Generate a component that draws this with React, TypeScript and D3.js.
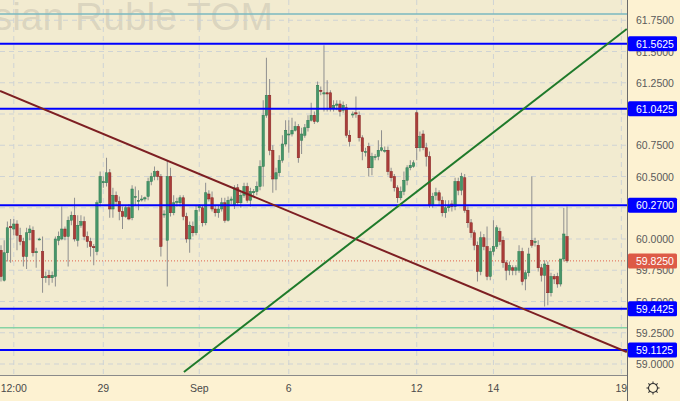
import React from 'react';
import * as d3 from 'd3';

const W = 680;
const H = 401;
const PLOT_RIGHT = 627;
const PLOT_BOTTOM = 375;

// [open, high, low, close]
const ohlc: [number, number, number, number][] = [
  [59.91, 59.95, 59.66, 59.70], [59.67, 59.99, 59.66, 59.89], [59.89, 60.14, 59.82, 60.09], [60.10, 60.16, 59.81, 60.09],
  [60.08, 60.16, 60.03, 60.12], [60.12, 60.15, 59.91, 60.03], [60.03, 60.09, 59.95, 59.98], [59.98, 60.01, 59.78, 59.86],
  [59.86, 60.09, 59.76, 60.05], [60.05, 60.11, 59.99, 60.08], [60.07, 60.10, 59.86, 59.89], [59.89, 59.93, 59.77, 59.90],
  [60.00, 60.01, 59.99, 60.00], [59.90, 60.02, 59.57, 59.69], [59.69, 59.74, 59.65, 59.70], [59.71, 59.75, 59.63, 59.69],
  [59.69, 59.74, 59.65, 59.71], [59.70, 60.02, 59.62, 60.00], [59.99, 60.06, 59.95, 60.02], [60.00, 60.26, 59.99, 60.08],
  [60.08, 60.10, 59.99, 60.02], [60.02, 60.18, 59.78, 60.15], [60.15, 60.22, 60.11, 60.19], [60.19, 60.33, 59.98, 60.00],
  [59.99, 60.19, 59.94, 60.11], [60.11, 60.19, 60.09, 60.14], [60.14, 60.18, 59.99, 60.02], [60.02, 60.06, 59.93, 59.98],
  [59.98, 60.01, 59.86, 59.94], [59.94, 59.96, 59.79, 59.93], [59.90, 60.31, 59.87, 60.29], [60.29, 60.54, 60.26, 60.50],
  [60.45, 60.50, 60.41, 60.46], [60.45, 60.65, 60.42, 60.53], [60.53, 60.56, 60.17, 60.24], [60.24, 60.41, 60.17, 60.35],
  [60.35, 60.38, 60.27, 60.30], [60.30, 60.34, 60.15, 60.22], [60.22, 60.26, 60.08, 60.18], [60.18, 60.27, 60.17, 60.25],
  [60.25, 60.28, 60.15, 60.16], [60.17, 60.43, 60.15, 60.40], [60.34, 60.42, 60.27, 60.34], [60.30, 60.39, 60.23, 60.31],
  [60.32, 60.35, 60.30, 60.32], [60.32, 60.34, 60.30, 60.33], [60.34, 60.49, 60.31, 60.46], [60.46, 60.53, 60.43, 60.50],
  [60.50, 60.58, 60.47, 60.54], [60.54, 60.55, 60.47, 60.50], [60.50, 60.52, 59.86, 59.94], [60.20, 60.23, 60.17, 60.20],
  [59.99, 60.63, 59.62, 60.50], [60.50, 60.57, 60.18, 60.21], [60.21, 60.35, 60.19, 60.29], [60.30, 60.33, 60.26, 60.30],
  [60.29, 60.35, 60.26, 60.33], [60.33, 60.35, 60.15, 60.18], [60.18, 60.21, 59.97, 60.00], [60.00, 60.14, 59.89, 60.11],
  [60.10, 60.14, 60.02, 60.05], [60.05, 60.27, 60.03, 60.23], [60.25, 60.28, 60.22, 60.26], [60.25, 60.27, 60.10, 60.13],
  [60.13, 60.45, 60.11, 60.37], [60.36, 60.39, 60.30, 60.32], [60.33, 60.38, 60.22, 60.24], [60.24, 60.27, 60.18, 60.21],
  [60.21, 60.27, 60.17, 60.24], [60.24, 60.33, 60.22, 60.29], [60.29, 60.33, 60.13, 60.15], [60.15, 60.34, 60.14, 60.31],
  [60.31, 60.34, 60.28, 60.32], [60.27, 60.43, 60.24, 60.41], [60.41, 60.44, 60.27, 60.29], [60.29, 60.38, 60.25, 60.35],
  [60.35, 60.45, 60.33, 60.42], [60.42, 60.45, 60.29, 60.31], [60.31, 60.41, 60.26, 60.38], [60.37, 60.40, 60.34, 60.38],
  [60.38, 60.46, 60.35, 60.42], [60.42, 60.63, 60.39, 60.58], [60.58, 61.11, 60.42, 60.99], [60.99, 61.45, 60.97, 61.15],
  [61.15, 61.28, 60.67, 60.71], [60.71, 60.75, 60.37, 60.48], [60.48, 60.57, 60.39, 60.53], [60.53, 60.67, 60.50, 60.63],
  [60.63, 60.83, 60.61, 60.76], [60.76, 60.95, 60.74, 60.87], [60.84, 60.95, 60.69, 60.84], [60.84, 60.97, 60.82, 60.87],
  [60.87, 60.94, 60.86, 60.90], [60.90, 60.92, 60.61, 60.65], [60.79, 60.89, 60.68, 60.84], [60.83, 60.92, 60.81, 60.89],
  [60.89, 60.99, 60.86, 60.95], [60.95, 61.09, 60.94, 60.99], [60.99, 61.02, 60.92, 60.94], [60.94, 61.26, 60.93, 61.23],
  [61.19, 61.22, 61.15, 61.18], [61.16, 61.55, 61.02, 61.17], [61.17, 61.27, 61.02, 61.16], [61.17, 61.19, 61.02, 61.05],
  [61.05, 61.11, 61.02, 61.07], [61.07, 61.11, 61.03, 61.08], [61.08, 61.11, 60.98, 61.02], [61.03, 61.10, 61.01, 61.07],
  [61.05, 61.08, 60.81, 60.83], [60.83, 60.87, 60.74, 60.78], [61.00, 61.02, 60.97, 61.00], [61.01, 61.14, 60.97, 61.00],
  [60.99, 61.02, 60.78, 60.81], [60.81, 60.83, 60.63, 60.70], [60.70, 60.73, 60.66, 60.70], [60.74, 60.77, 60.50, 60.57],
  [60.57, 60.69, 60.51, 60.66], [60.66, 60.68, 60.63, 60.66], [60.66, 60.79, 60.63, 60.71], [60.71, 60.87, 60.70, 60.73],
  [60.71, 60.74, 60.69, 60.71], [60.71, 60.74, 60.51, 60.54], [60.54, 60.57, 60.46, 60.49], [60.50, 60.52, 60.38, 60.41],
  [60.41, 60.43, 60.29, 60.33], [60.33, 60.42, 60.31, 60.38], [60.38, 60.54, 60.35, 60.47], [60.47, 60.59, 60.43, 60.57],
  [60.57, 60.63, 60.55, 60.59], [60.58, 60.63, 60.57, 60.61], [61.01, 61.03, 60.63, 60.73], [60.73, 60.86, 60.70, 60.82],
  [60.84, 60.87, 60.71, 60.73], [60.73, 60.77, 60.58, 60.66], [60.66, 60.70, 60.25, 60.27], [60.27, 60.37, 60.25, 60.34],
  [60.35, 60.41, 60.31, 60.37], [60.37, 60.39, 60.27, 60.31], [60.31, 60.34, 60.18, 60.21], [60.21, 60.31, 60.17, 60.25],
  [60.25, 60.31, 60.22, 60.27], [60.28, 60.31, 60.22, 60.26], [60.26, 60.49, 60.23, 60.46], [60.46, 60.49, 60.35, 60.39],
  [60.39, 60.53, 60.35, 60.50], [60.49, 60.52, 60.21, 60.23], [60.23, 60.26, 60.09, 60.13], [60.13, 60.16, 60.01, 60.05],
  [60.05, 60.07, 59.91, 59.95], [59.95, 59.98, 59.66, 59.74], [59.74, 60.06, 59.71, 60.01], [60.01, 60.04, 59.91, 59.94],
  [59.94, 60.10, 59.67, 59.70], [59.70, 59.93, 59.67, 59.90], [59.90, 60.15, 59.87, 59.94], [59.94, 60.11, 59.92, 60.09],
  [60.06, 60.09, 59.95, 59.98], [59.99, 60.02, 59.77, 59.81], [59.81, 59.83, 59.67, 59.75], [59.75, 59.82, 59.71, 59.79],
  [59.77, 59.79, 59.71, 59.75], [59.75, 59.79, 59.71, 59.77], [59.75, 59.95, 59.73, 59.90], [59.90, 59.93, 59.63, 59.66],
  [59.68, 59.75, 59.59, 59.73], [59.73, 59.93, 59.70, 59.88], [59.99, 60.50, 59.93, 59.95], [59.98, 60.01, 59.94, 59.98],
  [59.95, 59.99, 59.74, 59.77], [59.77, 59.80, 59.66, 59.71], [59.71, 59.83, 59.46, 59.80], [59.79, 59.82, 59.47, 59.57],
  [59.57, 59.73, 59.54, 59.70], [59.70, 59.72, 59.64, 59.68], [59.70, 59.73, 59.61, 59.64], [59.64, 59.84, 59.62, 59.84],
  [59.84, 60.25, 59.82, 60.04], [60.02, 60.26, 59.81, 59.825],
];

const priceTicks = [59, 59.25, 59.5, 59.75, 60, 60.25, 60.5, 60.75, 61, 61.25, 61.5, 61.75];
const timeTickIndex = [4, 32, 62, 90, 130, 154, 194];
const timeTickLabels = ['12:00', '29', 'Sep', '6', '12', '14', '19'];
const levelLines = [61.5625, 61.0425, 60.27, 59.4425, 59.1125];
const thinLines = [61.8, 59.29];
const thinColors = ['#7ab8c0', '#86d3a4'];
const lastPrice = 59.825;
const downTrend: [number, number][] = [[-0.31, 61.184], [195.7, 59.096]];
const upTrend: [number, number][] = [[57.2, 58.936], [195.7, 61.68]];
const watermark = 'US Dollar / Russian Ruble TOM';

const FONT = '"Liberation Sans", Arial, sans-serif';

export default function App() {
  const x = d3.scaleLinear().domain([0, ohlc.length - 1]).range([1, 567]);
  const y = d3.scaleLinear().domain([59, 61.75]).range([364, 20.25]);
  const line = d3.line<[number, number]>().x(d => x(d[0])).y(d => y(d[1]));
  const bw = 2.4;
  const fmt = d3.format('.4f');
  const visibleTicks = priceTicks.filter(p => levelLines.every(l => Math.abs(y(p) - y(l)) > 5.5));

  return (
    <svg width={W} height={H} style={{ position: 'absolute', left: 0, top: 0 }} fontFamily={FONT}>
      <defs>
        <clipPath id="plot"><rect x={0} y={0} width={PLOT_RIGHT} height={PLOT_BOTTOM} /></clipPath>
        <clipPath id="xaxis"><rect x={0} y={PLOT_BOTTOM} width={PLOT_RIGHT} height={H - PLOT_BOTTOM} /></clipPath>
      </defs>
      <rect x={0} y={0} width={W} height={H} fill="#fdf2d2" />
      <rect x={0} y={0} width={PLOT_RIGHT} height={PLOT_BOTTOM} fill="#f2ebd0" />
      <g clipPath="url(#plot)">
        <text x={273} y={30} textAnchor="end" fontSize={39} fill="#7a7a7a" fillOpacity={0.2}>{watermark}</text>
        {priceTicks.map(p => (
          <line key={'gy' + p} x1={0} x2={PLOT_RIGHT} y1={y(p)} y2={y(p)} stroke="#cfd3d4" strokeDasharray="5,4" />
        ))}
        {timeTickIndex.map(i => (
          <line key={'gx' + i} x1={x(i)} x2={x(i)} y1={0} y2={PLOT_BOTTOM} stroke="#cfd3d4" strokeDasharray="5,4" />
        ))}
        {thinLines.map((p, k) => (
          <line key={'t' + p} x1={0} x2={PLOT_RIGHT} y1={y(p)} y2={y(p)} stroke={thinColors[k]} strokeWidth={1.5} />
        ))}
        <line x1={0} x2={PLOT_RIGHT} y1={y(lastPrice)} y2={y(lastPrice)} stroke="#e0604c" strokeDasharray="1,2" />
        {ohlc.map((d, i) => {
          const [o, h, l, c] = d;
          const up = c >= o;
          const top = y(Math.max(o, c));
          const hh = Math.max(1, Math.abs(y(o) - y(c)));
          return (
            <g key={i}>
              <line x1={x(i)} x2={x(i)} y1={y(h)} y2={y(l)} stroke="#8f8f8f" strokeWidth={1} />
              <rect x={x(i) - bw / 2} y={top} width={bw} height={hh}
                fill={up ? '#46966a' : '#aa3d39'} stroke={up ? '#2f7a50' : '#862323'} strokeWidth={0.5} />
            </g>
          );
        })}
        {levelLines.map(p => (
          <line key={'l' + p} x1={0} x2={PLOT_RIGHT} y1={y(p)} y2={y(p)} stroke="#0000ff" strokeWidth={2} />
        ))}
        <path d={line(downTrend) || ''} stroke="#7d1f22" strokeWidth={2} fill="none" />
        <path d={line(upTrend) || ''} stroke="#1f7a2a" strokeWidth={2} fill="none" />
      </g>
      <line x1={0} x2={PLOT_RIGHT} y1={PLOT_BOTTOM + 0.5} y2={PLOT_BOTTOM + 0.5} stroke="#8a8a8a" />
      <line x1={PLOT_RIGHT + 0.5} x2={PLOT_RIGHT + 0.5} y1={0} y2={H} stroke="#6a6a6a" />
      <g clipPath="url(#xaxis)">
        {timeTickIndex.map((i, k) => (
          <text key={'xl' + i} x={x(i)} y={392} textAnchor="middle" fontSize={10.5} fill="#4a4a4a">{timeTickLabels[k]}</text>
        ))}
      </g>
      {visibleTicks.map(p => (
        <text key={'yl' + p} x={636} y={y(p) + 4} fontSize={10.5} fill="#5a5a5a">{fmt(p)}</text>
      ))}
      {levelLines.map(p => (
        <g key={'lb' + p}>
          <rect x={628} y={y(p) - 7.5} width={49} height={15} fill="#0000ff" rx={1.5} />
          <text x={636} y={y(p) + 4} fontSize={10.5} fill="#ffffff">{fmt(p)}</text>
        </g>
      ))}
      <rect x={628} y={y(lastPrice) - 7.5} width={49} height={15} fill="#dd5a46" rx={1.5} />
      <text x={636} y={y(lastPrice) + 4} fontSize={10.5} fill="#ffffff">{fmt(lastPrice)}</text>
      <g transform="translate(653,388)" stroke="#333" strokeWidth={1.1} fill="none">
        <circle r={4.5} />
        {d3.range(8).map(k => {
          const a = (k * Math.PI) / 4;
          return <line key={k} x1={Math.cos(a) * 4.5} y1={Math.sin(a) * 4.5} x2={Math.cos(a) * 6.5} y2={Math.sin(a) * 6.5} />;
        })}
      </g>
    </svg>
  );
}
